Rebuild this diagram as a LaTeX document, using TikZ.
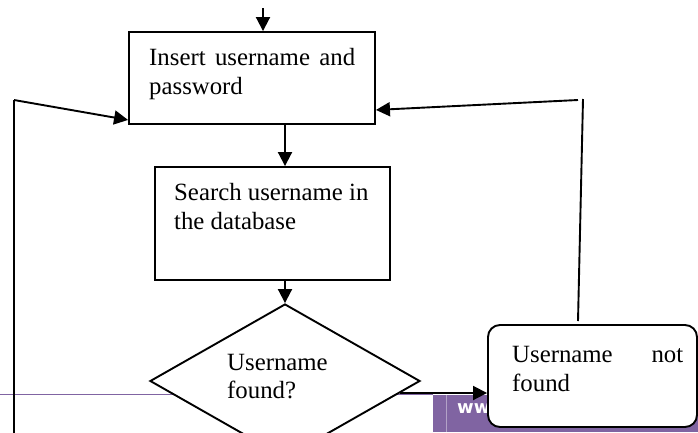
\documentclass[tikz,border=0pt]{standalone}
\usepackage{fontspec}
\setmainfont{Liberation Serif}
\newfontfamily\wmfont{DejaVu Sans}
\usetikzlibrary{arrows.meta,shapes.geometric,calc}
\definecolor{wpurple}{HTML}{8064A2}
\definecolor{wlight}{HTML}{B3A2C7}
\begin{document}
\begin{tikzpicture}[x=1pt,y=-1pt,
  box/.style={draw, line width=1.9pt, inner sep=0pt, fill=white},
  arr/.style={-{Triangle[length=14pt,width=14pt]}, line width=1.9pt},
  ln/.style={line width=1.9pt},
  lbl/.style={anchor=base west, inner sep=0pt, font=\fontsize{24.8}{29}\selectfont}]
\useasboundingbox (0,0) rectangle (698,432);
\clip (0,0) rectangle (698,432);
% background watermark band
\draw[wpurple, line width=1pt] (0,394) -- (433,394);
\fill[wpurple] (433,395) rectangle (698,432);
\draw[wlight, line width=0.8pt] (446,395) -- (446,432);
\node[anchor=base west, inner sep=0pt, text=white, font=\wmfont\bfseries\fontsize{18}{20}\selectfont] (www) at (457,413) {www};
% shapes
\node[box, minimum width=246pt, minimum height=92pt] (b1) at (252,78) {};
\node[box, minimum width=235pt, minimum height=113pt] (b2) at (272.5,223.5) {};
\node[box, diamond, minimum width=270pt, minimum height=154pt] (dia) at (285,381) {};
% texts
\node[lbl] (t1a) at (149,65) {\makebox[206pt][s]{Insert username and}};
\node[lbl] (t1b) at (149,94) {password};
\node[lbl] (t2a) at (174,200) {Search username in};
\node[lbl] (t2b) at (174,229) {the database};
\node[lbl] (t3a) at (227,370) {Username};
\node[lbl] (t3b) at (227,398) {found?};
% connectors
\coordinate (top) at (263,8);
\coordinate (ax) at (285,0);
\draw[arr] (top) -- (top |- b1.north);
\draw[arr] (b1.south -| ax) -- (b2.north -| ax);
\draw[arr] (b2.south -| ax) -- (dia.north);
% left loop
\coordinate (l1) at (14,440);
\coordinate (l2) at (14,100);
\draw[ln] (l1) -- (l2);
\draw[arr] (l2) -- ($(b1.south west)+(0,-5)$);
% not found box
\node[box, rounded corners=12pt, minimum width=209pt, minimum height=102pt] (nf) at (592.5,376) {};
\node[lbl] (t4a) at (512,362) {\makebox[171pt][s]{Username not}};
\node[lbl] (t4b) at (512,391) {found};
\coordinate (d1) at ($(dia.east)+(-21,12)$);
\draw[arr] (d1) -- (d1 -| nf.west);
% right loop
\coordinate (r1) at (578,321);
\coordinate (r2) at (583,99);
\coordinate (r3) at (578,100);
\draw[ln] (r1) -- (r2);
\draw[arr] (r3) -- ($(b1.south east)+(0,-15)$);
\end{tikzpicture}
\end{document}
